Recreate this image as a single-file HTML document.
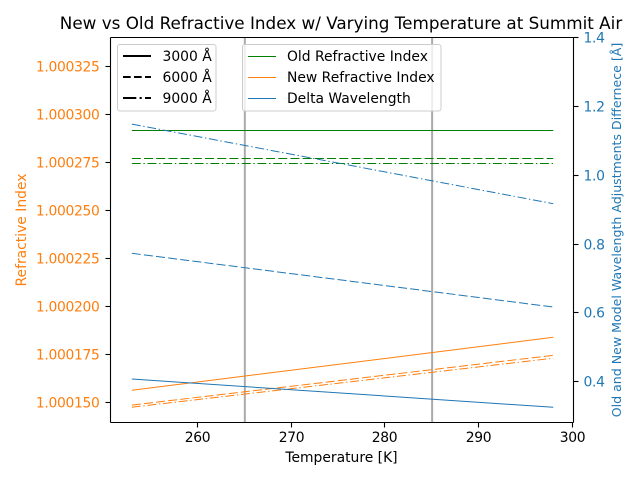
<!DOCTYPE html>
<html>
<head>
<meta charset="utf-8">
<title>New vs Old Refractive Index</title>
<style>
html,body{margin:0;padding:0;background:#fff;}
svg{display:block;font-family:"DejaVu Sans",sans-serif;}
</style>
</head>
<body>
<svg id="chart" width="640" height="480" viewBox="0 0 640 480" xmlns="http://www.w3.org/2000/svg">
<rect x="0" y="0" width="640" height="480" fill="#ffffff"/>
<text x="341" y="29" font-size="16.79" text-anchor="middle" fill="#000">New vs Old Refractive Index w/ Varying Temperature at Summit Air</text>
<text x="341.5" y="462" font-size="13.89" text-anchor="middle" fill="#000">Temperature [K]</text>
<text transform="translate(26,230) rotate(-90)" font-size="13.89" text-anchor="middle" fill="#ff7f0e">Refractive Index</text>
<text transform="translate(621,230) rotate(-90)" font-size="12.57" text-anchor="middle" fill="#1f77b4">Old and New Model Wavelength Adjustments Differnece [Å]</text>
<g id="marks"></g>
<g id="axes"></g>
<g>
<rect x="117.5" y="44.5" width="98.5" height="66.5" rx="2.5" fill="#fff" fill-opacity="0.8" stroke="#ccc" stroke-width="1"/>
<line x1="123" x2="151" y1="56" y2="56" stroke="#000" stroke-width="2.08"/>
<text x="162.5" y="61" font-size="13.89">3000 Å</text>
<line x1="123" x2="151" y1="77" y2="77" stroke="#000" stroke-width="2.08" stroke-dasharray="7.7 3.3"/>
<text x="162.5" y="82" font-size="13.89">6000 Å</text>
<line x1="123" x2="151" y1="98" y2="98" stroke="#000" stroke-width="2.08" stroke-dasharray="13.3 3.3 2.1 3.3"/>
<text x="162.5" y="103" font-size="13.89">9000 Å</text>
</g>
<g>
<rect x="242.5" y="44.5" width="198.5" height="66.5" rx="2.5" fill="#fff" fill-opacity="0.8" stroke="#ccc" stroke-width="1"/>
<line x1="248" x2="276" y1="56.5" y2="56.5" stroke="#008000" stroke-width="1"/>
<text x="287" y="61" font-size="13.89">Old Refractive Index</text>
<line x1="248" x2="276" y1="77.5" y2="77.5" stroke="#ff7f0e" stroke-width="1"/>
<text x="287" y="82" font-size="13.89">New Refractive Index</text>
<line x1="248" x2="276" y1="98.5" y2="98.5" stroke="#1f77b4" stroke-width="1"/>
<text x="287" y="103" font-size="13.89">Delta Wavelength</text>
</g>
</svg>
<script>
var temperatures = [253, 298];
var markerTemperatures = [265, 285];
var oldIndex3000 = [1.00029153, 1.00029153];
var oldIndex6000 = [1.00027695, 1.00027695];
var oldIndex9000 = [1.00027435, 1.00027435];
var newIndex3000 = [1.0001563, 1.0001839];
var newIndex6000 = [1.0001486, 1.0001745];
var newIndex9000 = [1.0001475, 1.000173];
var delta3000 = [0.408, 0.326];
var delta6000 = [0.773, 0.617];
var delta9000 = [1.148, 0.917];
var xTicks = [260, 270, 280, 290, 300];
var leftTicks = [1.00015, 1.000175, 1.0002, 1.000225, 1.00025, 1.000275, 1.0003, 1.000325];
var leftTickLabels = ["1.000150", "1.000175", "1.000200", "1.000225", "1.000250", "1.000275", "1.000300", "1.000325"];
var rightTicks = [0.4, 0.6, 0.8, 1.0, 1.2, 1.4];
var rightTickLabels = ["0.4", "0.6", "0.8", "1.0", "1.2", "1.4"];

var SVGNS = 'http://www.w3.org/2000/svg';
var AXES_LEFT = 110.5, AXES_RIGHT = 573.5, AXES_TOP = 37.5, AXES_BOTTOM = 422.5;
function xPos(t) { return 197.4 + (t - 260) * 9.365; }
function yLeft(v) { return 402.4 - (v - 1.00015) / 25e-6 * 48.03; }
function yRight(v) { return 381.8 - (v - 0.4) * 344.5; }
var marks = document.getElementById('marks');
var axes = document.getElementById('axes');

function makeLine(parent, x1, y1, x2, y2, color, width, dash) {
  var l = document.createElementNS(SVGNS, 'line');
  l.setAttribute('x1', x1);
  l.setAttribute('y1', y1);
  l.setAttribute('x2', x2);
  l.setAttribute('y2', y2);
  l.setAttribute('stroke', color);
  l.setAttribute('stroke-width', width);
  if (dash) l.setAttribute('stroke-dasharray', dash);
  parent.appendChild(l);
  return l;
}
function makeText(x, y, str, anchor, color) {
  var t = document.createElementNS(SVGNS, 'text');
  t.setAttribute('x', x);
  t.setAttribute('y', y);
  t.setAttribute('font-size', '13.89');
  t.setAttribute('letter-spacing', '-0.33');
  t.setAttribute('text-anchor', anchor);
  t.setAttribute('fill', color);
  t.textContent = str;
  axes.appendChild(t);
  return t;
}
function drawSeries(values, yFn, color, dash, name) {
  var pts = [];
  for (var i = 0; i < temperatures.length; i++) {
    pts.push(xPos(temperatures[i]).toFixed(2) + ',' + yFn(values[i]).toFixed(2));
  }
  var p = document.createElementNS(SVGNS, 'polyline');
  p.setAttribute('points', pts.join(' '));
  p.setAttribute('fill', 'none');
  p.setAttribute('stroke', color);
  p.setAttribute('stroke-width', '1');
  if (dash) p.setAttribute('stroke-dasharray', dash);
  
  
  marks.appendChild(p);
}

markerTemperatures.forEach(function (t) {
  var v = makeLine(marks, xPos(t) + 0.6, AXES_TOP, xPos(t) + 0.6, AXES_BOTTOM, '#aaaaaa', 2);
  
  
});

var DASHED = '9 3.2';
var DASHDOT = '8.9 2.7 1.4 2.7';
drawSeries(oldIndex3000, yLeft, '#008000', null, 'old-index-3000');
drawSeries(oldIndex6000, yLeft, '#008000', DASHED, 'old-index-6000');
drawSeries(oldIndex9000, yLeft, '#008000', DASHDOT, 'old-index-9000');
drawSeries(newIndex3000, yLeft, '#ff7f0e', null, 'new-index-3000');
drawSeries(newIndex6000, yLeft, '#ff7f0e', DASHED, 'new-index-6000');
drawSeries(newIndex9000, yLeft, '#ff7f0e', DASHDOT, 'new-index-9000');
drawSeries(delta3000, yRight, '#1f77b4', null, 'delta-wavelength-3000');
drawSeries(delta6000, yRight, '#1f77b4', DASHED, 'delta-wavelength-6000');
drawSeries(delta9000, yRight, '#1f77b4', DASHDOT, 'delta-wavelength-9000');

var spineLeft = makeLine(axes, AXES_LEFT, AXES_TOP, AXES_LEFT, AXES_BOTTOM, '#000', 1.1);


var spineRight = makeLine(axes, AXES_RIGHT, AXES_TOP, AXES_RIGHT, AXES_BOTTOM, '#000', 1.1);


var spineTop = makeLine(axes, AXES_LEFT, AXES_TOP, AXES_RIGHT, AXES_TOP, '#000', 1.1);


var spineBottom = makeLine(axes, AXES_LEFT, AXES_BOTTOM, AXES_RIGHT, AXES_BOTTOM, '#000', 1.1);



xTicks.forEach(function (t) {
  var x = Math.round(xPos(t) - 0.5) + 0.5;
  var tick = makeLine(axes, x, AXES_BOTTOM, x, AXES_BOTTOM + 5, '#000', 1.1);
  
  
  var label = makeText(x, 442, String(t), 'middle', '#000');
  
  
});
leftTicks.forEach(function (v, i) {
  var y = Math.round(yLeft(v) - 0.5) + 0.5;
  var tick = makeLine(axes, AXES_LEFT - 5, y, AXES_LEFT, y, '#000', 1.1);
  
  
  var label = makeText(99.5, y + 5, leftTickLabels[i], 'end', '#ff7f0e');
  
  
});
rightTicks.forEach(function (v, i) {
  var y = Math.round(yRight(v) - 0.5) + 0.5;
  var tick = makeLine(axes, AXES_RIGHT, y, AXES_RIGHT + 5, y, '#000', 1.1);
  
  
  var label = makeText(583.5, y + 5, rightTickLabels[i], 'start', '#1f77b4');
  
  
});
</script>
</body>
</html>
